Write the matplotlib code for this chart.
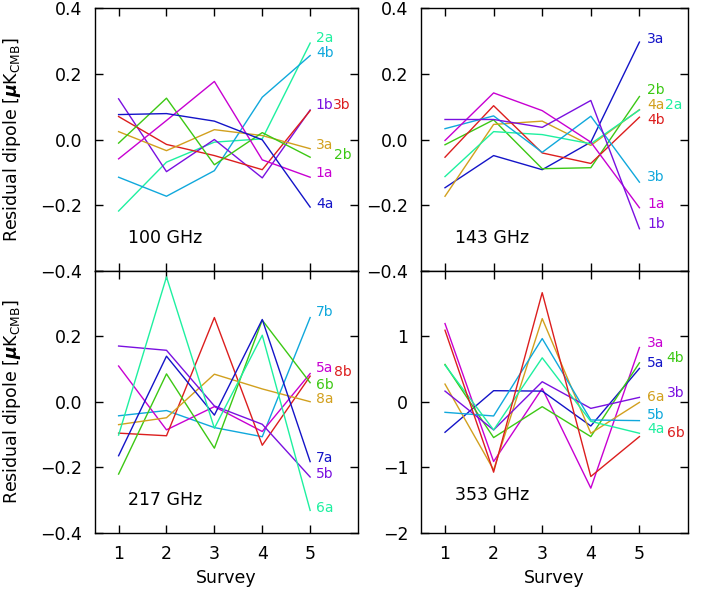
import matplotlib
matplotlib.use('Agg')
import matplotlib.pyplot as plt

surveys = [1, 2, 3, 4, 5]

# 100 GHz
names_100 = ['2a', '4b', '1b', '3b', '3a', '2b', '1a', '4a']
vals_100 = [
    [-0.218, -0.069, -0.008, 0.002, 0.294],
    [-0.115, -0.173, -0.095, 0.129, 0.256],
    [0.124, -0.098, 0.000, -0.117, 0.090],
    [0.070, -0.015, -0.049, -0.092, 0.088],
    [0.024, -0.034, 0.030, 0.012, -0.028],
    [-0.011, 0.126, -0.077, 0.021, -0.054],
    [-0.059, 0.058, 0.177, -0.062, -0.115],
    [0.076, 0.079, 0.056, -0.001, -0.206],
]

# 143 GHz
names_143 = ['3a', '2b', '4a', '2a', '4b', '3b', '1a', '1b']
vals_143 = [
    [-0.147, -0.049, -0.092, -0.008, 0.297],
    [-0.016, 0.060, -0.089, -0.086, 0.131],
    [-0.173, 0.046, 0.056, -0.018, 0.091],
    [-0.113, 0.024, 0.015, -0.013, 0.090],
    [-0.054, 0.103, -0.041, -0.073, 0.068],
    [0.033, 0.072, -0.039, 0.071, -0.130],
    [-0.003, 0.142, 0.088, -0.008, -0.208],
    [0.061, 0.061, 0.037, 0.119, -0.272],
]

# 217 GHz
names_217 = ['7b', '5a', '8b', '6b', '8a', '7a', '5b', '6a']
vals_217 = [
    [-0.043, -0.027, -0.079, -0.107, 0.257],
    [0.109, -0.086, -0.015, -0.091, 0.086],
    [-0.096, -0.104, 0.257, -0.133, 0.078],
    [-0.221, 0.085, -0.142, 0.249, 0.058],
    [-0.070, -0.049, 0.084, 0.039, 0.000],
    [-0.165, 0.139, -0.041, 0.251, -0.183],
    [0.170, 0.157, -0.013, -0.069, -0.230],
    [-0.102, 0.381, -0.081, 0.203, -0.332],
]

# 353 GHz
names_353 = ['3a', '5a', '4b', '6a', '3b', '5b', '4a', '6b']
vals_353 = [
    [1.193, -0.914, 0.203, -1.320, 0.827],
    [-0.467, 0.168, 0.162, -0.371, 0.508],
    [0.569, -0.548, -0.076, -0.533, 0.594],
    [0.269, -1.041, 1.269, -0.482, -0.010],
    [0.162, -0.431, 0.305, -0.102, 0.066],
    [-0.162, -0.218, 0.964, -0.279, -0.289],
    [0.558, -0.431, 0.670, -0.300, -0.482],
    [1.091, -1.076, 1.665, -1.142, -0.533],
]

colour = {
    'magenta': '#c800d2', 'violet': '#7a10e0', 'blue': '#1414c8',
    'sky': '#10a8dc', 'spring': '#1ef0a0', 'green': '#3cc814',
    'gold': '#d2a01e', 'red': '#dc1e1e',
}
colours_100 = ['spring', 'sky', 'violet', 'red', 'gold', 'green', 'magenta', 'blue']
colours_143 = ['blue', 'green', 'gold', 'spring', 'red', 'sky', 'magenta', 'violet']
colours_217 = ['sky', 'magenta', 'red', 'green', 'gold', 'blue', 'violet', 'spring']
colours_353 = ['magenta', 'blue', 'green', 'gold', 'violet', 'sky', 'spring', 'red']

# where the channel names sit (x, y) in data units
labels_100 = [(5.12, 0.31), (5.12, 0.264), (5.12, 0.104), (5.47, 0.104),
              (5.12, -0.018), (5.5, -0.046), (5.12, -0.103), (5.12, -0.196)]
labels_143 = [(5.16, 0.307), (5.16, 0.152), (5.16, 0.106), (5.53, 0.106),
              (5.16, 0.06), (5.16, -0.115), (5.16, -0.196), (5.16, -0.257)]
labels_217 = [(5.12, 0.274), (5.12, 0.104), (5.5, 0.091), (5.12, 0.05),
              (5.12, 0.008), (5.12, -0.173), (5.12, -0.22), (5.12, -0.325)]
labels_353 = [(5.16, 0.898), (5.16, 0.584), (5.56, 0.66), (5.16, 0.076),
              (5.56, 0.127), (5.16, -0.203), (5.16, -0.421), (5.56, -0.472)]

plt.rcParams['font.family'] = ['DejaVu Sans']
plt.rcParams['mathtext.fontset'] = 'dejavusans'

fig = plt.figure(figsize=(7.08, 5.92), dpi=100)
ax_tl = fig.add_axes([0.1337, 0.5427, 0.372, 0.4433])
ax_tr = fig.add_axes([0.5942, 0.5427, 0.3776, 0.4433])
ax_bl = fig.add_axes([0.1337, 0.1002, 0.372, 0.4425])
ax_br = fig.add_axes([0.5942, 0.1002, 0.3776, 0.4425])

panels = [
    (ax_tl, '100 GHz', names_100, vals_100, colours_100, labels_100, -0.30),
    (ax_tr, '143 GHz', names_143, vals_143, colours_143, labels_143, -0.30),
    (ax_bl, '217 GHz', names_217, vals_217, colours_217, labels_217, -0.30),
    (ax_br, '353 GHz', names_353, vals_353, colours_353, labels_353, -1.42),
]

for ax, title, names, vals, cols, labs, ty in panels:
    for name, v, c, (lx, ly) in zip(names, vals, cols, labs):
        ax.plot(surveys, v, color=colour[c], lw=1.0)
        ax.text(lx, ly, name, color=colour[c], fontsize=10, va='center', ha='left')
    ax.text(1.2, ty, title, fontsize=12.5, va='center', ha='left')
    ax.set_xlim(0.5, 6.0)
    ax.set_xticks(surveys)
    ax.tick_params(direction='in', top=True, right=True, length=6, width=1,
                   labelsize=12.5, pad=9)
    for s in ax.spines.values():
        s.set_linewidth(1.0)

small = [0.4, 0.2, 0.0, -0.2, -0.4]
for ax in (ax_tl, ax_tr):
    ax.set_ylim(-0.4, 0.4)
    ax.set_yticks(small)
    ax.set_yticklabels([f'{t:.1f}'.replace('-', '\u2212') for t in small])
    ax.set_xticklabels([])

ax_bl.set_ylim(-0.4, 0.4)
ax_bl.set_yticks(small)
ax_bl.set_yticklabels([''] + [f'{t:.1f}'.replace('-', '\u2212') for t in small[1:]])

big = [2, 1, 0, -1, -2]
ax_br.set_ylim(-2, 2)
ax_br.set_yticks(big)
ax_br.set_yticklabels([''] + [str(t).replace('-', '\u2212') for t in big[1:]])

ylab = r'Residual dipole [$\boldsymbol{\mu}$K$_{\rm CMB}$]'
for ax in (ax_tl, ax_bl):
    ax.set_ylabel(ylab, fontsize=12.5, labelpad=12)
for ax in (ax_bl, ax_br):
    ax.set_xlabel('Survey', fontsize=12.5, labelpad=4)

fig.savefig('out.png', dpi=100)
